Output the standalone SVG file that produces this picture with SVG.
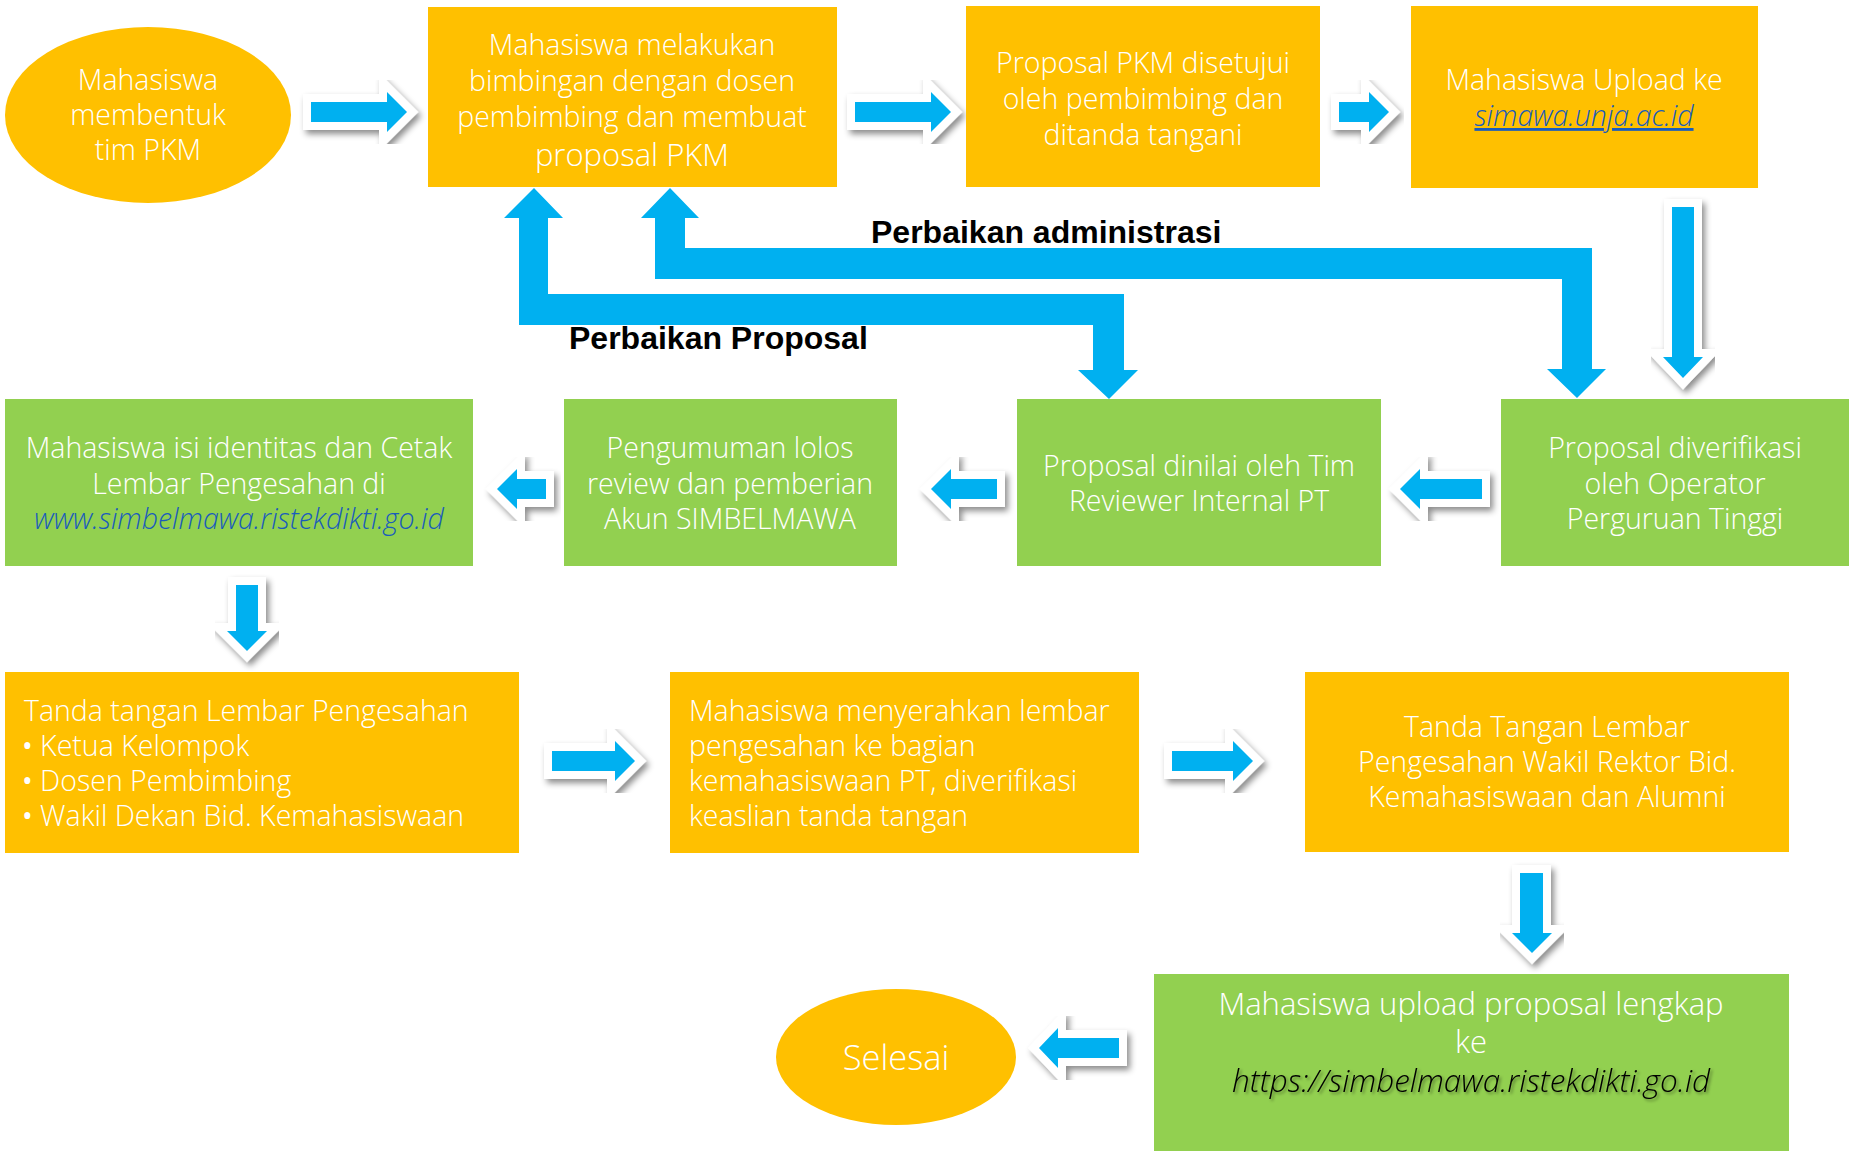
<svg xmlns="http://www.w3.org/2000/svg" width="1854" height="1151" viewBox="0 0 1854 1151">
<style>
.or{fill:#FFC000}
.gr{fill:#92D050}
.t{font-family:"Open Sans","Noto Sans","Liberation Sans",sans-serif;font-weight:300;fill:#fff;font-size:28.5px}
.c{text-anchor:middle}
.big{font-size:31px}
.lnk{font-style:italic;fill:#1a5cbc}
.blk{font-style:italic;fill:#000;font-size:31.5px}
.bu{font-weight:400}
.ba{fill:#00B0F0;stroke:#fff;stroke-width:16;stroke-linejoin:miter;stroke-miterlimit:10;paint-order:stroke;filter:url(#sh)}
.fb{fill:#00B0F0}
.lbl{font-family:"Liberation Sans",Arial,sans-serif;font-weight:700;font-size:32px;fill:#000}
</style>
<defs>
<filter id="sh" x="-30%" y="-30%" width="160%" height="160%">
<feDropShadow dx="3" dy="4" stdDeviation="3" flood-color="#000" flood-opacity="0.45"/>
</filter>
<filter id="ts" x="-5%" y="-30%" width="110%" height="160%">
<feDropShadow dx="2" dy="2" stdDeviation="1.5" flood-color="#000" flood-opacity="0.4"/>
</filter>
</defs>
<rect width="1854" height="1151" fill="#fff"/>

<g id="connectors">
<polygon class="fb" points="670,188 699,218 685,218 685,248 1592,248 1592,369 1606,369 1577,398 1547,369 1562,369 1562,279 655,279 655,218 641,218"/>
<polygon class="fb" points="534,188 563,218 548,218 548,294 1124,294 1124,370 1138,370 1109,399 1078,370 1093,370 1093,325 519,325 519,218 504,218"/>
<text class="lbl" x="871" y="243">Perbaikan administrasi</text>
<text class="lbl" x="569" y="349">Perbaikan Proposal</text>
<polygon class="ba" points="311,102 387,102 387,92 407,112 387,132 387,122 311,122"/>
<polygon class="ba" points="855,102 931,102 931,92 951,112 931,132 931,122 855,122"/>
<polygon class="ba" points="1339,102 1369,102 1369,92 1389,112 1369,132 1369,122 1339,122"/>
<polygon class="ba" points="1672,207 1694,207 1694,357 1703,357 1683,378 1663,357 1672,357"/>
<polygon class="ba" points="1482,479 1420,479 1420,469 1400,489 1420,509 1420,499 1482,499"/>
<polygon class="ba" points="997,479 951,479 951,469 931,489 951,509 951,499 997,499"/>
<polygon class="ba" points="546,479 517,479 517,469 497,489 517,509 517,499 546,499"/>
<polygon class="ba" points="236,585 258,585 258,631 267,631 247,651 227,631 236,631"/>
<polygon class="ba" points="552,751 615,751 615,741 635,761 615,781 615,771 552,771"/>
<polygon class="ba" points="1172,751 1233,751 1233,741 1253,761 1233,781 1233,771 1172,771"/>
<polygon class="ba" points="1520,873 1543,873 1543,933 1552,933 1532,953 1512,933 1520,933"/>
<polygon class="ba" points="1119,1038 1058,1038 1058,1028 1039,1048 1058,1068 1058,1058 1119,1058"/>
</g>

<g id="n1">
<ellipse class="or" cx="148" cy="115" rx="143" ry="88"/>
<text class="t c" x="148" y="90">Mahasiswa</text>
<text class="t c" x="148" y="125">membentuk</text>
<text class="t c" x="148" y="160">tim PKM</text>
</g>
<g id="n2">
<rect class="or" x="428" y="7" width="409" height="180"/>
<text class="t c" x="632" y="55">Mahasiswa melakukan</text>
<text class="t c" x="632" y="91">bimbingan dengan dosen</text>
<text class="t c" x="632" y="127">pembimbing dan membuat</text>
<text class="t c big" x="632" y="166">proposal PKM</text>
</g>
<g id="n3">
<rect class="or" x="966" y="6" width="354" height="181"/>
<text class="t c" x="1143" y="73">Proposal PKM disetujui</text>
<text class="t c" x="1143" y="109">oleh pembimbing dan</text>
<text class="t c" x="1143" y="145">ditanda tangani</text>
</g>
<g id="n4">
<rect class="or" x="1411" y="6" width="347" height="182"/>
<text class="t c" x="1584" y="90">Mahasiswa Upload ke</text>
<text class="t c lnk" x="1584" y="126" text-decoration="underline">simawa.unja.ac.id</text>
</g>
<g id="n5">
<rect class="gr" x="1501" y="399" width="348" height="167"/>
<text class="t c" x="1675" y="458">Proposal diverifikasi</text>
<text class="t c" x="1675" y="494">oleh Operator</text>
<text class="t c" x="1675" y="529">Perguruan Tinggi</text>
</g>
<g id="n6">
<rect class="gr" x="1017" y="399" width="364" height="167"/>
<text class="t c" x="1199" y="476">Proposal dinilai oleh Tim</text>
<text class="t c" x="1199" y="511">Reviewer Internal PT</text>
</g>
<g id="n7">
<rect class="gr" x="564" y="399" width="333" height="167"/>
<text class="t c" x="730" y="458">Pengumuman lolos</text>
<text class="t c" x="730" y="494">review dan pemberian</text>
<text class="t c" x="730" y="529">Akun SIMBELMAWA</text>
</g>
<g id="n8">
<rect class="gr" x="5" y="399" width="468" height="167"/>
<text class="t c" x="239" y="458">Mahasiswa isi identitas dan Cetak</text>
<text class="t c" x="239" y="494">Lembar Pengesahan di</text>
<text class="t c lnk" x="239" y="529">www.simbelmawa.ristekdikti.go.id</text>
</g>
<g id="n9">
<rect class="or" x="5" y="672" width="514" height="181"/>
<text class="t" x="24" y="721">Tanda tangan Lembar Pengesahan</text>
<text class="t" x="22" y="756"><tspan class="bu">•</tspan> Ketua Kelompok</text>
<text class="t" x="22" y="791"><tspan class="bu">•</tspan> Dosen Pembimbing</text>
<text class="t" x="22" y="826"><tspan class="bu">•</tspan> Wakil Dekan Bid. Kemahasiswaan</text>
</g>
<g id="n10">
<rect class="or" x="670" y="672" width="469" height="181"/>
<text class="t" x="689" y="721">Mahasiswa menyerahkan lembar</text>
<text class="t" x="689" y="756">pengesahan ke bagian</text>
<text class="t" x="689" y="791">kemahasiswaan PT, diverifikasi</text>
<text class="t" x="689" y="826">keaslian tanda tangan</text>
</g>
<g id="n11">
<rect class="or" x="1305" y="672" width="484" height="180"/>
<text class="t c" x="1547" y="737">Tanda Tangan Lembar</text>
<text class="t c" x="1547" y="772">Pengesahan Wakil Rektor Bid.</text>
<text class="t c" x="1547" y="807">Kemahasiswaan dan Alumni</text>
</g>
<g id="n12">
<rect class="gr" x="1154" y="974" width="635" height="177"/>
<text class="t c big" x="1471" y="1015">Mahasiswa upload proposal lengkap</text>
<text class="t c big" x="1471" y="1053">ke</text>
<text class="t c blk" x="1471" y="1092" filter="url(#ts)">https://simbelmawa.ristekdikti.go.id</text>
</g>
<g id="n13">
<ellipse class="or" cx="896" cy="1057" rx="120" ry="68"/>
<text class="t c" x="896" y="1070" style="font-size:34.5px">Selesai</text>
</g>
</svg>
